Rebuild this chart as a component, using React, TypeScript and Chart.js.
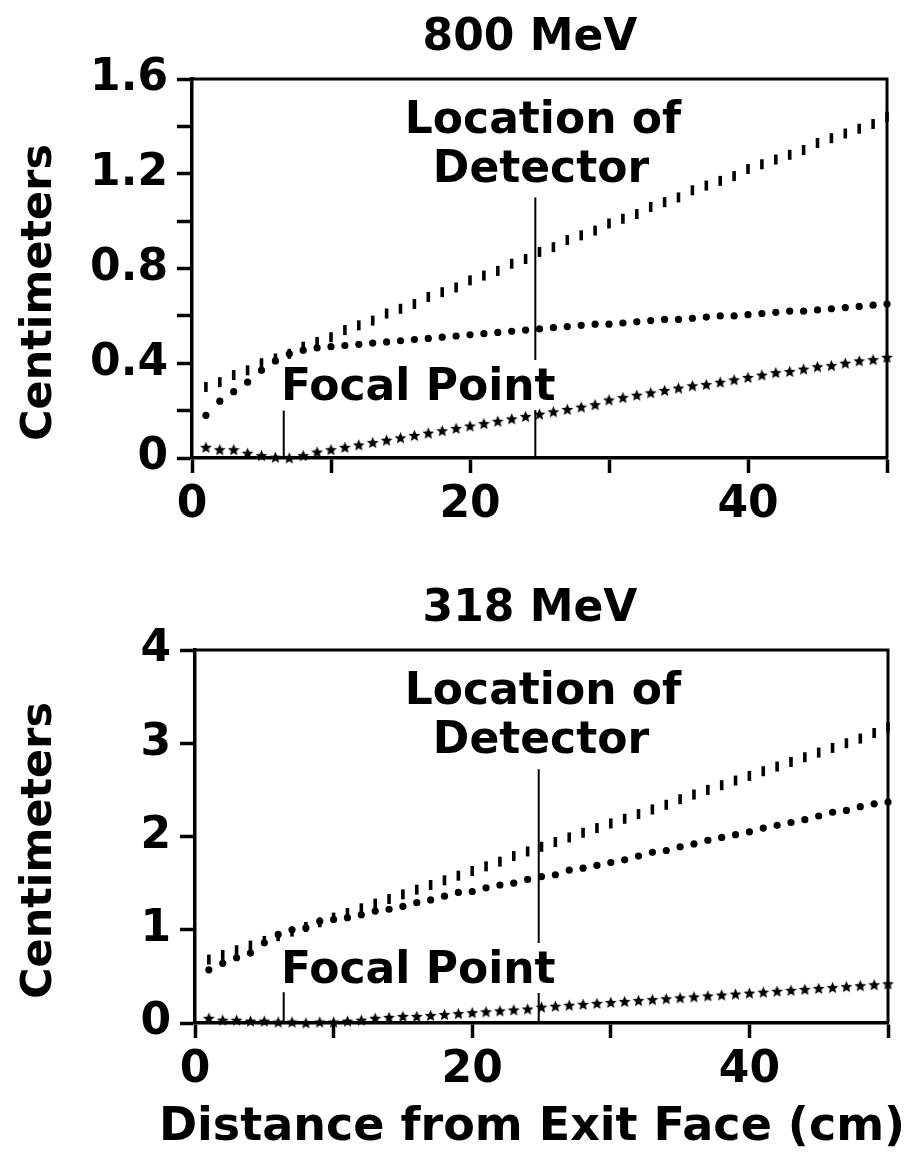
import { useEffect, useRef } from 'react';
import { Chart, registerables } from 'chart.js';

Chart.register(...registerables);

// ---------- data ----------
const DISTANCE = [
  1, 2, 3, 4, 5, 6, 7, 8, 9, 10, 11, 12, 13, 14, 15, 16, 17, 18, 19, 20, 21, 22, 23, 24, 25,
  26, 27, 28, 29, 30, 31, 32, 33, 34, 35, 36, 37, 38, 39, 40, 41, 42, 43, 44, 45, 46, 47, 48, 49, 50,
];

// 800 MeV panel
const BAR_800 = [
  0.3, 0.32, 0.35, 0.37, 0.4, 0.42, 0.44, 0.47, 0.49, 0.51, 0.54, 0.56, 0.58, 0.61, 0.63, 0.65, 0.68,
  0.7, 0.72, 0.75, 0.77, 0.79, 0.82, 0.84, 0.87, 0.89, 0.92, 0.94, 0.96, 0.99, 1.01, 1.03, 1.06, 1.08,
  1.1, 1.13, 1.15, 1.17, 1.19, 1.22, 1.24, 1.26, 1.28, 1.3, 1.33, 1.35, 1.37, 1.39, 1.41, 1.44,
];
const DOT_800 = [
  0.18, 0.24, 0.28, 0.32, 0.37, 0.41, 0.44, 0.455, 0.465, 0.47, 0.475, 0.48, 0.485, 0.49, 0.495, 0.5,
  0.505, 0.51, 0.515, 0.52, 0.525, 0.53, 0.535, 0.54, 0.545, 0.55, 0.555, 0.56, 0.565, 0.565, 0.57,
  0.575, 0.58, 0.585, 0.585, 0.59, 0.595, 0.6, 0.6, 0.605, 0.61, 0.615, 0.62, 0.62, 0.625, 0.63, 0.635,
  0.64, 0.645, 0.65,
];
const STAR_800 = [
  0.045, 0.035, 0.035, 0.02, 0.01, 0.003, 0.0, 0.01, 0.025, 0.035, 0.045, 0.055, 0.065, 0.075, 0.085,
  0.095, 0.105, 0.115, 0.125, 0.135, 0.145, 0.155, 0.165, 0.175, 0.185, 0.195, 0.205, 0.215, 0.225,
  0.245, 0.255, 0.265, 0.275, 0.285, 0.295, 0.305, 0.31, 0.32, 0.33, 0.34, 0.35, 0.36, 0.365, 0.375,
  0.385, 0.39, 0.4, 0.41, 0.415, 0.425,
];

// 318 MeV panel
const BAR_318 = [
  0.68, 0.73, 0.78, 0.83, 0.88, 0.93, 0.98, 1.03, 1.08, 1.13, 1.18, 1.23, 1.28, 1.33, 1.38, 1.43, 1.48,
  1.53, 1.58, 1.63, 1.68, 1.73, 1.79, 1.84, 1.89, 1.94, 1.99, 2.04, 2.09, 2.14, 2.19, 2.24, 2.29, 2.34,
  2.4, 2.45, 2.5, 2.55, 2.6, 2.65, 2.7, 2.75, 2.8, 2.85, 2.9, 2.95, 3.0, 3.05, 3.11, 3.17,
];
const DOT_318 = [
  0.57, 0.64, 0.7, 0.75, 0.86, 0.95, 1.0, 1.02, 1.09, 1.11, 1.13, 1.16, 1.2, 1.22, 1.25, 1.29, 1.32,
  1.36, 1.4, 1.41, 1.45, 1.48, 1.5, 1.54, 1.57, 1.59, 1.64, 1.66, 1.69, 1.72, 1.75, 1.79, 1.83, 1.85,
  1.89, 1.92, 1.96, 1.99, 2.02, 2.05, 2.09, 2.12, 2.15, 2.18, 2.22, 2.26, 2.28, 2.32, 2.35, 2.37,
];
const STAR_318 = [
  0.05, 0.03, 0.03, 0.02, 0.02, 0.01, 0.01, 0.0, 0.01, 0.01, 0.02, 0.03, 0.05, 0.06, 0.07, 0.07, 0.08,
  0.09, 0.1, 0.11, 0.12, 0.13, 0.14, 0.15, 0.17, 0.18, 0.19, 0.2, 0.21, 0.22, 0.23, 0.24, 0.25, 0.26,
  0.27, 0.28, 0.29, 0.3, 0.31, 0.32, 0.33, 0.34, 0.35, 0.36, 0.37, 0.38, 0.39, 0.4, 0.41, 0.42,
];

const X_TICK_LABELS = ['0', '20', '40'];
const Y_LABELS_800 = ['0', '0.4', '0.8', '1.2', '1.6'];
const Y_LABELS_318 = ['0', '1', '2', '3', '4'];

// annotation markers (cm / centimeters)
const DETECTOR_X = [24.7, 24.8];
const DETECTOR_TOP = [1.1, 2.72];
const FOCAL_X = [6.6, 6.4];
const FOCAL_TOP = [0.2, 0.33];

const FONT_FAMILY = '"DejaVu Sans", "Liberation Sans", sans-serif';

function makeStar(): HTMLCanvasElement {
  const c = document.createElement('canvas');
  c.width = 13;
  c.height = 13;
  const g = c.getContext('2d')!;
  g.fillStyle = '#000';
  g.beginPath();
  for (let i = 0; i < 10; i++) {
    const r = i % 2 === 0 ? 6.2 : 2.8;
    const a = -Math.PI / 2 + (i * Math.PI) / 5;
    const px = 6.5 + r * Math.cos(a);
    const py = 7 + r * Math.sin(a);
    if (i === 0) g.moveTo(px, py);
    else g.lineTo(px, py);
  }
  g.closePath();
  g.fill();
  return c;
}

type PanelOpts = {
  idx: number;
  bar: number[];
  dot: number[];
  star: number[];
  yMax: number;
  yStep: number;
  yLabels: string[];
  title: string;
  padTop: number;
  padRight: number;
  yAxisWidth: number;
  xAxisHeight: number;
  focalBaselineFromBottom: number;
  ylabelShift: number;
  xTitle?: string;
  xTitleBaseline?: number;
};

function buildConfig(o: PanelOpts): any {
  const pts = (vals: number[]) => DISTANCE.map((d, i) => ({ x: d, y: vals[i] }));
  const star = makeStar();
  const font = (s: number) => `bold ${s}px ${FONT_FAMILY}`;

  const annot = {
    id: 'annot' + o.idx,
    afterDraw(chart: any) {
      const { ctx, chartArea: a } = chart;
      const xs = chart.scales.x;
      const ys = chart.scales.y;
      ctx.save();
      ctx.strokeStyle = '#000';
      ctx.fillStyle = '#000';
      // frame top + right
      ctx.lineWidth = 3;
      ctx.beginPath();
      ctx.moveTo(a.left - 1, a.top);
      ctx.lineTo(a.right, a.top);
      ctx.lineTo(a.right, a.bottom);
      ctx.stroke();

      // Focal point label position
      const fBase = a.bottom - o.focalBaselineFromBottom;
      const capH = 32;

      // detector line
      ctx.lineWidth = 2;
      const dx = xs.getPixelForValue(DETECTOR_X[o.idx]);
      const dTop = ys.getPixelForValue(DETECTOR_TOP[o.idx]);
      ctx.beginPath();
      ctx.moveTo(dx, dTop);
      ctx.lineTo(dx, fBase - capH - 8);
      ctx.moveTo(dx, fBase + 10);
      ctx.lineTo(dx, a.bottom);
      ctx.stroke();
      // focal line
      const fx = xs.getPixelForValue(FOCAL_X[o.idx]);
      const fTop = ys.getPixelForValue(FOCAL_TOP[o.idx]);
      ctx.beginPath();
      ctx.moveTo(fx, fTop);
      ctx.lineTo(fx, a.bottom);
      ctx.stroke();

      ctx.font = font(44);
      ctx.textBaseline = 'alphabetic';
      // title
      ctx.textAlign = 'center';
      ctx.fillText(o.title, 530, a.top - 29);
      // Location of Detector
      ctx.fillText('Location of', 543, a.top + 54);
      ctx.fillText('Detector', 541, a.top + 103);
      // Focal Point
      ctx.textAlign = 'left';
      ctx.fillText('Focal Point', 281, fBase);

      // y title
      ctx.save();
      ctx.font = font(43);
      ctx.translate(51, (a.top + a.bottom) / 2 + o.ylabelShift);
      ctx.rotate(-Math.PI / 2);
      ctx.textAlign = 'center';
      ctx.fillText('Centimeters', 0, 0);
      ctx.restore();

      if (o.xTitle) {
        ctx.font = font(46);
        ctx.textAlign = 'center';
        ctx.fillText(o.xTitle, 532, o.xTitleBaseline!);
      }
      ctx.restore();
    },
  };

  return {
    type: 'scatter',
    data: {
      datasets: [
        {
          data: pts(o.star),
          pointStyle: star,
          pointRadius: 6,
          showLine: false,
          clip: false,
        },
        {
          data: pts(o.dot),
          pointStyle: 'circle',
          pointRadius: 3.6,
          pointBorderWidth: 0,
          backgroundColor: '#000',
          borderColor: '#000',
          showLine: false,
          clip: false,
        },
        {
          data: pts(o.bar),
          pointStyle: 'line',
          pointRotation: 90,
          pointRadius: 5,
          pointBorderWidth: 3.6,
          borderColor: '#000',
          backgroundColor: '#000',
          showLine: false,
          clip: false,
        },
      ],
    },
    options: {
      responsive: false,
      animation: false,
      events: [],
      layout: { padding: { top: o.padTop, right: o.padRight, left: 0, bottom: 0 } },
      plugins: { legend: { display: false }, tooltip: { enabled: false }, title: { display: false } },
      scales: {
        x: {
          type: 'linear',
          min: 0,
          max: 50,
          afterFit: (s: any) => {
            s.height = o.xAxisHeight;
          },
          border: { display: true, color: '#000', width: 3.5 },
          grid: {
            drawOnChartArea: false,
            drawTicks: true,
            tickLength: 15,
            tickWidth: 3.5,
            tickColor: '#000',
            color: '#000',
          },
          ticks: {
            stepSize: 10,
            autoSkip: false,
            maxRotation: 0,
            minRotation: 0,
            padding: 6,
            color: '#000',
            font: { family: FONT_FAMILY, size: 44, weight: 'bold' },
            callback: (v: number) => {
              const k = X_TICK_LABELS.indexOf(String(v));
              return k >= 0 ? X_TICK_LABELS[k] : '';
            },
          },
        },
        y: {
          type: 'linear',
          min: 0,
          max: o.yMax,
          afterFit: (s: any) => {
            s.width = o.yAxisWidth;
          },
          border: { display: true, color: '#000', width: 3.5 },
          grid: {
            drawOnChartArea: false,
            drawTicks: true,
            tickLength: 15,
            tickWidth: 3.5,
            tickColor: '#000',
            color: '#000',
          },
          ticks: {
            stepSize: o.yStep,
            autoSkip: false,
            padding: 9,
            color: '#000',
            font: { family: FONT_FAMILY, size: 44, weight: 'bold' },
            callback: (v: number) => {
              const s = Math.abs(v) < 1e-9 ? '0' : Number.isInteger(Math.round(v * 1000) / 1000) ? String(Math.round(v)) : (Math.round(v * 10) / 10).toFixed(1);
              return o.yLabels.indexOf(s) >= 0 ? s : '';
            },
          },
        },
      },
    },
    plugins: [annot],
  };
}

export default function App() {
  const topRef = useRef<HTMLCanvasElement>(null);
  const botRef = useRef<HTMLCanvasElement>(null);

  useEffect(() => {
    const c1 = new Chart(
      topRef.current!,
      buildConfig({
        idx: 0,
        bar: BAR_800,
        dot: DOT_800,
        star: STAR_800,
        yMax: 1.6,
        yStep: 0.2,
        yLabels: Y_LABELS_800,
        title: '800 MeV',
        padTop: 79,
        padRight: 23,
        yAxisWidth: 192,
        xAxisHeight: 92,
        focalBaselineFromBottom: 58,
        ylabelShift: 24,
      })
    );
    const c2 = new Chart(
      botRef.current!,
      buildConfig({
        idx: 1,
        bar: BAR_318,
        dot: DOT_318,
        star: STAR_318,
        yMax: 4,
        yStep: 1,
        yLabels: Y_LABELS_318,
        title: '318 MeV',
        padTop: 90,
        padRight: 22,
        yAxisWidth: 195,
        xAxisHeight: 131,
        focalBaselineFromBottom: 40,
        ylabelShift: 14,
        xTitle: 'Distance from Exit Face (cm)',
        xTitleBaseline: 580,
      })
    );
    return () => {
      c1.destroy();
      c2.destroy();
    };
  }, []);

  return (
    <div style={{ position: 'absolute', left: 0, top: 0, width: 910, height: 1154, background: '#fff' }}>
      <canvas ref={topRef} width={910} height={550} style={{ position: 'absolute', left: 0, top: 0 }} />
      <canvas ref={botRef} width={910} height={594} style={{ position: 'absolute', left: 0, top: 560 }} />
    </div>
  );
}
